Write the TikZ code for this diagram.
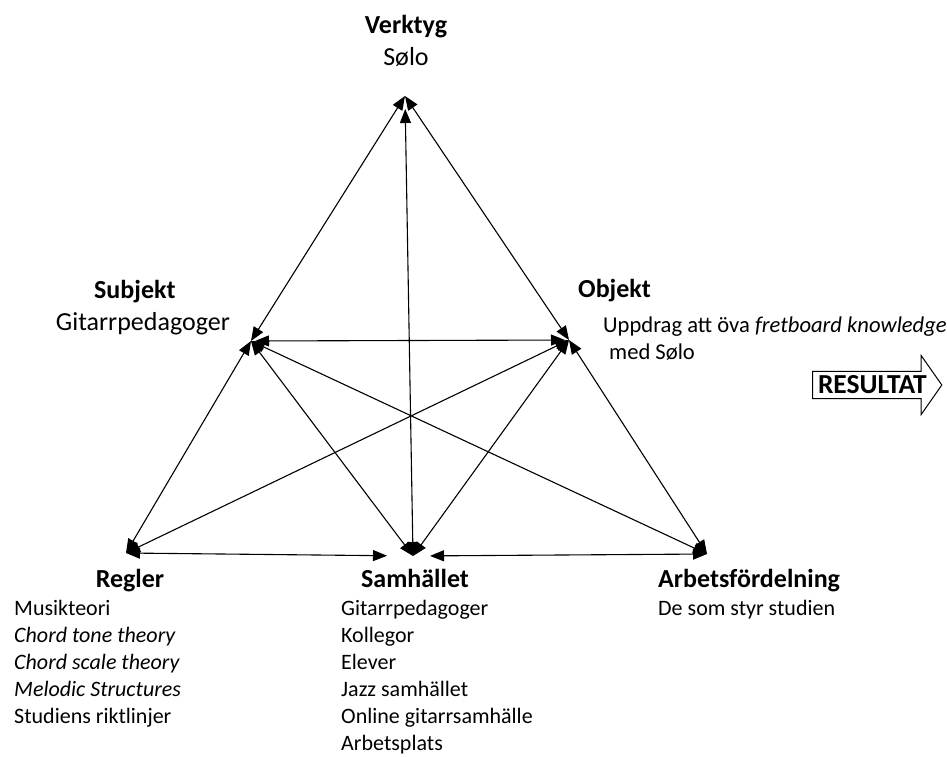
\documentclass[tikz,border=0pt]{standalone}
\usepackage{fontspec}
\setmainfont{Carlito}
\usetikzlibrary{arrows.meta, shapes.arrows}
\tikzset{
  head/.style = {font=\fontsize{26}{30}\selectfont\bfseries, inner sep=0pt},
  big/.style = {font=\fontsize{26}{30}\selectfont, inner sep=0pt},
  body/.style = {font=\fontsize{22}{27}\selectfont, inner sep=0pt, align=left},
  link/.style = {line width=1.1pt,
    {Triangle[length=14pt,width=11pt]}-{Triangle[length=14pt,width=11pt]}},
  result/.style = {single arrow, draw, line width=1pt,
    font=\fontsize{27.5}{30}\selectfont\bfseries,
    inner xsep=5pt, inner ysep=4pt,
    single arrow head extend=16pt, single arrow tip angle=110}
}

\begin{document}
\begin{tikzpicture}[x=1pt, y=-1pt]
  \useasboundingbox (0,0) rectangle (947,756);

  % corners of the triangle
  \coordinate (verktyg) at (405,96);
  \coordinate (subjekt) at (251,341);
  \coordinate (objekt) at (569,340);
  \coordinate (regler) at (126,553);
  \coordinate (samhallet) at (413,556);
  \coordinate (arbete) at (707,554);

  % links
  \draw[link] (subjekt) -- (verktyg);
  \draw[link] (objekt) -- (verktyg);
  \draw[link, shorten >=13pt] (samhallet) -- (verktyg);
  \draw[link, shorten <=4pt, shorten >=4pt] (subjekt) -- (objekt);
  \draw[link] (subjekt) -- (regler);
  \draw[link] (subjekt) -- (samhallet);
  \draw[link] (subjekt) -- (arbete);
  \draw[link] (objekt) -- (regler);
  \draw[link] (objekt) -- (samhallet);
  \draw[link] (objekt) -- (arbete);
  \draw[link, shorten >=26pt] (regler) -- (samhallet);
  \draw[link, shorten <=17pt] (samhallet) -- (arbete);

  % labels
  \node[head, anchor=base] (verktygH) at (406,33) {Verktyg};
  \node[big, anchor=base] (verktygT) at (406,65) {Sølo};

  \node[head, anchor=base west] (subjektH) at (94,298) {Subjekt};
  \node[big, anchor=base east] (subjektT) at (230,330) {Gitarrpedagoger};

  \node[head, anchor=base west] (objektH) at (578,297) {Objekt};
  \node[body, font=\fontsize{22.6}{27}\selectfont, anchor=base west] (objektT) at (603,332)
    {Uppdrag att öva \textit{fretboard knowledge}};
  \node[body, font=\fontsize{22.6}{27}\selectfont, anchor=base west] (objektT2) at (609,359) {med Sølo};

  \node[result, anchor=west] (resultat) at (812,385) {RESULTAT};

  % last baseline = 615 + lines*27
  \node[head, anchor=base] (reglerH) at (130,587) {Regler};
  \node[body, anchor=base west] (reglerT) at (14,723)
    {Musikteori\\ \textit{Chord tone theory}\\ \textit{Chord scale theory}\\
     \textit{Melodic Structures}\\ Studiens riktlinjer};

  \node[head, anchor=base] (samhalletH) at (415,587) {Samhället};
  \node[body, anchor=base west] (samhalletT) at (341,750)
    {Gitarrpedagoger\\ Kollegor\\ Elever\\ Jazz samhället\\
     Online gitarrsamhälle\\ Arbetsplats};

  \node[head, anchor=base west] (arbeteH) at (658,587) {Arbetsfördelning};
  \node[body, anchor=base west] (arbeteT) at (658,615) {De som styr studien};
\end{tikzpicture}
\end{document}
